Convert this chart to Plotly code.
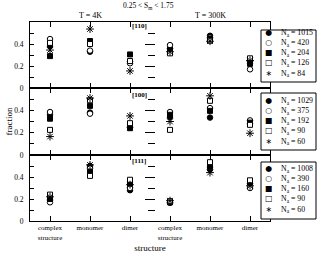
import plotly.graph_objects as go

# ---------------- data ----------------
categories = ["complex<br>structure", "monomer", "dimer",
              "complex<br>structure", "monomer", "dimer"]
cat_pos = [0, 1, 2, 3, 4, 5]

# panel [110]
na_110 = [1015, 420, 204, 126, 84]
f110_1015 = [0.38, 0.33, 0.24, 0.36, 0.475, 0.24]
f110_420 = [0.445, 0.34, 0.225, 0.39, 0.46, 0.17]
f110_204 = [0.29, 0.427, 0.305, 0.34, 0.45, 0.22]
f110_126 = [0.41, 0.40, 0.245, 0.315, 0.43, 0.27]
f110_84 = [0.345, 0.536, 0.155, 0.33, 0.425, 0.25]

# panel [100]
na_100 = [1029, 375, 192, 90, 60]
f100_1029 = [0.36, 0.38, 0.245, 0.34, 0.335, 0.28]
f100_375 = [0.385, 0.37, 0.25, 0.385, 0.42, 0.31]
f100_192 = [0.325, 0.44, 0.24, 0.36, 0.395, 0.29]
f100_90 = [0.225, 0.49, 0.285, 0.225, 0.485, 0.27]
f100_60 = [0.165, 0.51, 0.35, 0.30, 0.53, 0.195]

# panel [111]
na_111 = [1008, 390, 160, 90, 60]
f111_1008 = [0.19, 0.50, 0.28, 0.17, 0.47, 0.34]
f111_390 = [0.17, 0.48, 0.30, 0.165, 0.49, 0.30]
f111_160 = [0.20, 0.45, 0.34, 0.17, 0.50, 0.35]
f111_90 = [0.24, 0.41, 0.375, 0.18, 0.535, 0.37]
f111_60 = [0.22, 0.51, 0.33, 0.185, 0.44, 0.32]

panel_labels = ["[110]", "[100]", "[111]"]
y_ticks = [0, 0.2, 0.4]
y_minor = [0.1, 0.3, 0.5]
mid_major = [0.2, 0.4]
mid_minor = [0.1, 0.3, 0.5]

panels = [
    (na_110, [f110_1015, f110_420, f110_204, f110_126, f110_84]),
    (na_100, [f100_1029, f100_375, f100_192, f100_90, f100_60]),
    (na_111, [f111_1008, f111_390, f111_160, f111_90, f111_60]),
]

# ---------------- styles ----------------
FONT = "Liberation Serif, Times New Roman, serif"
marker_styles = [
    dict(symbol="circle", size=5.5, color="black", line=dict(color="black", width=1)),
    dict(symbol="circle", size=5.5, color="white", line=dict(color="black", width=1)),
    dict(symbol="square", size=5, color="black", line=dict(color="black", width=1)),
    dict(symbol="square", size=5, color="white", line=dict(color="black", width=1)),
    dict(symbol="asterisk-open", size=6.5, color="black", line=dict(color="black", width=1)),
]
legend_glyphs = ["\u25CF", "\u25CB", "\u25A0", "\u25A1", "\u2217"]

W, H = 317, 254
ML, MR, MT, MB = 30, 0, 22, 33
PW = W - ML - MR
PH = H - MT - MB
x_dom = [0, (270 - ML) / PW]
row_dom = [[(221 - 88) / PH, 1.0], [(221 - 155) / PH, (221 - 88) / PH], [0.0, (221 - 155) / PH]]
YR = [0, 0.6]

fig = go.Figure()
layout = dict(
    width=W, height=H, margin=dict(l=ML, r=MR, t=MT, b=MB),
    paper_bgcolor="white", plot_bgcolor="rgba(0,0,0,0)", showlegend=False,
    font=dict(family=FONT, size=8, color="black"),
)

for r in range(3):
    xs = "" if r == 0 else str(r + 1)
    ys = "" if r == 0 else str(r + 1)
    na, series = panels[r]
    for k in range(5):
        fig.add_trace(go.Scatter(
            x=cat_pos, y=series[k], mode="markers", marker=marker_styles[k],
            xaxis="x" + xs, yaxis="y" + ys, name="N_a = %d" % na[k],
            hoverinfo="skip", cliponaxis=False,
        ))
    layout["xaxis" + xs] = dict(
        domain=x_dom, anchor="y" + ys, range=[-0.5, 5.5],
        tickmode="array", tickvals=cat_pos, ticktext=categories,
        ticks="inside", ticklen=5, tickwidth=1, tickcolor="black",
        showline=True, linecolor="black", linewidth=1, mirror="ticks",
        showgrid=False, zeroline=False, showticklabels=(r == 2),
        tickfont=dict(family=FONT, size=7, color="black"), fixedrange=True,
        **({} if r == 0 else dict(matches="x")),
    )
    layout["yaxis" + ys] = dict(
        domain=row_dom[r], anchor="x" + xs, range=YR,
        tickmode="array", tickvals=y_ticks, ticktext=["0", "0.2", "0.4"],
        ticks="inside", ticklen=4, tickwidth=1, tickcolor="black",
        minor=dict(tickmode="array", tickvals=y_minor, ticks="inside", ticklen=4,
                   tickcolor="black", showgrid=False),
        showline=True, linecolor="black", linewidth=1, mirror=True,
        showgrid=False, zeroline=False, ticklabelstandoff=4,
        tickfont=dict(family=FONT, size=7.5, color="black"),
    )
    # central tick column between the two temperature halves
    idx = 4 + r
    layout["yaxis%d" % idx] = dict(
        overlaying="y" + ys, anchor="free", position=(155 - ML) / PW,
        side="left", range=YR, tickmode="array", tickvals=mid_major,
        ticks="outside", ticklen=10, tickwidth=1, tickcolor="black",
        minor=dict(tickmode="array", tickvals=mid_minor, ticks="outside",
                   ticklen=7, tickcolor="black", showgrid=False),
        showline=False, showgrid=False, zeroline=False, showticklabels=False,
    )
    fig.add_trace(go.Scatter(x=[None], y=[None], xaxis="x" + xs,
                             yaxis="y%d" % idx, showlegend=False,
                             hoverinfo="skip"))

layout["xaxis3"]["title"] = dict(text="structure", font=dict(family=FONT, size=9, color="black"),
                                 standoff=4)

def px_x(p):
    return (p - ML) / PW

def px_y(p):
    return (H - MB - p) / PH

annotations = []
annotations.append(dict(text="fraction", xref="paper", yref="paper", x=px_x(8), y=px_y(121.5),
                        textangle=-90, showarrow=False, font=dict(family=FONT, size=9),
                        xanchor="center", yanchor="middle"))
annotations.append(dict(text="0.25 < S<sub>m</sub> < 1.75", xref="paper", yref="paper",
                        x=px_x(148), y=px_y(6), showarrow=False,
                        font=dict(family=FONT, size=7.5), xanchor="center", yanchor="middle"))
annotations.append(dict(text="T = 4K", xref="x", yref="paper", x=1, y=px_y(15.5), showarrow=False,
                        font=dict(family=FONT, size=8), xanchor="center", yanchor="middle"))
annotations.append(dict(text="T = 300K", xref="x", yref="paper", x=4, y=px_y(15.5), showarrow=False,
                        font=dict(family=FONT, size=8), xanchor="center", yanchor="middle"))
label_y = [26, 95, 161]
for r in range(3):
    annotations.append(dict(text="<b>%s</b>" % panel_labels[r], xref="x", yref="paper",
                            x=2.0, y=px_y(label_y[r]), showarrow=False,
                            font=dict(family=FONT, size=7), xanchor="left", yanchor="middle"))

boxes = [(30, 82), (93, 150), (162, 219)]
item_centers = [52.5, 121.2, 188.5]
shapes = []
for r in range(3):
    na = panels[r][0]
    top, bot = boxes[r]
    shapes.append(dict(type="rect", xref="paper", yref="paper", layer="above",
                       x0=px_x(261), x1=px_x(316), y0=px_y(bot), y1=px_y(top),
                       fillcolor="white", line=dict(color="black", width=1)))
    annotations.append(dict(text="<br>".join(legend_glyphs), xref="paper", yref="paper",
                            x=px_x(268), y=px_y(item_centers[r]), showarrow=False,
                            align="center", xanchor="center", yanchor="middle",
                            font=dict(family="DejaVu Sans", size=7.8, color="black")))
    annotations.append(dict(text="<br>".join("N<sub>a</sub> = %d" % n for n in na),
                            xref="paper", yref="paper",
                            x=px_x(279), y=px_y(item_centers[r]), showarrow=False,
                            align="left", xanchor="left", yanchor="middle",
                            font=dict(family=FONT, size=7.8, color="black")))

layout["annotations"] = annotations
layout["shapes"] = shapes
fig.update_layout(**layout)
fig.write_html("out.html", config={"displayModeBar": False, "staticPlot": True},
               post_script="document.body.style.margin='0';document.body.style.overflow='hidden';")
